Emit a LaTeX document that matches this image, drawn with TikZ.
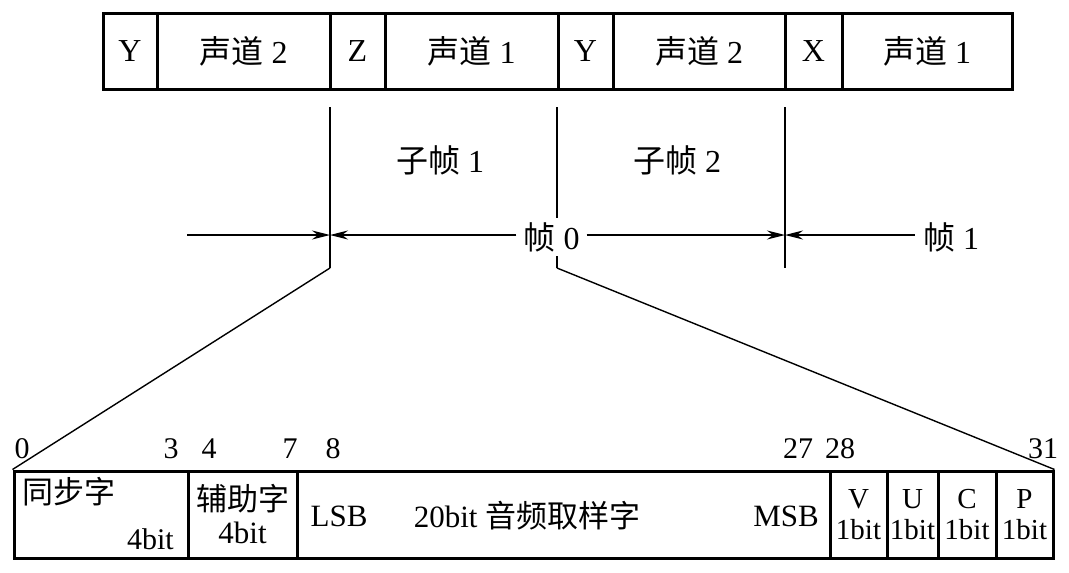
\documentclass[tikz,border=0pt]{standalone}
\usepackage{fontspec}
\setmainfont{Liberation Serif}
\newfontfamily\cjk{Noto Sans CJK SC}
\usetikzlibrary{arrows.meta}
\begin{document}
\begin{tikzpicture}[x=1pt,y=-1pt,
  cell/.style={draw, line width=3pt, inner sep=0pt, font=\fontsize{32}{34}\selectfont},
  topcell/.style={cell, minimum height=76pt},
  botcell/.style={cell, minimum height=87pt},
  txt/.style={inner sep=0pt, font=\fontsize{32}{34}\selectfont},
  num/.style={inner sep=0pt, font=\fontsize{30}{32}\selectfont},
  small/.style={align=center, font=\fontsize{29}{31}\selectfont},
  thin/.style={line width=1.4pt},
  arr/.style={thin, -{Stealth[length=18pt,width=9pt,inset=6pt]}}]
\useasboundingbox (0,0) rectangle (1069,573);
% top row
\node[topcell, minimum width=54pt]  (t1) at (130,51) {Y};
\node[topcell, minimum width=173pt] (t2) at (243.5,51) {{\cjk 声道} 2};
\node[topcell, minimum width=55pt]  (t3) at (357.5,51) {Z};
\node[topcell, minimum width=173pt] (t4) at (471.5,51) {{\cjk 声道} 1};
\node[topcell, minimum width=55pt]  (t5) at (585.5,51) {Y};
\node[topcell, minimum width=172pt] (t6) at (699,51) {{\cjk 声道} 2};
\node[topcell, minimum width=57pt]  (t7) at (813.5,51) {X};
\node[topcell, minimum width=170pt] (t8) at (927,51) {{\cjk 声道} 1};
% vertical lines
\coordinate (v1t) at (330,107); \coordinate (v1b) at (330,268);
\coordinate (v2t) at (557,107); \coordinate (v2b) at (557,268);
\coordinate (v3t) at (785,107); \coordinate (v3b) at (785,268);
\draw[thin] (v1t) -- (v1b);
\draw[thin] (v2t) -- (v2b);
\draw[thin] (v3t) -- (v3b);
\node[txt] (sf1) at (440,160) {{\cjk 子帧} 1};
\node[txt] (sf2) at (677,160) {{\cjk 子帧} 2};
% frame arrows
\coordinate (a0) at (187,235);
\coordinate (a1) at (330,235);
\coordinate (a3) at (785,235);
\node[txt, fill=white, inner xsep=7pt, inner ysep=4pt] (f0) at (551.5,237) {{\cjk 帧} 0};
\node[txt, inner xsep=8pt] (f1) at (951,237) {{\cjk 帧} 1};
\draw[arr] (a0) -- (a1);
\draw[arr] (f0.west |- a1) -- (a1);
\draw[arr] (f0.east |- a3) -- (a3);
\draw[arr] (f1.west |- a3) -- (a3);
% bottom row
\node[botcell, minimum width=174pt] (b1) at (101,514.5) {};
\node[botcell, minimum width=109pt, align=center, font=\fontsize{31}{33}\selectfont] (b2) at (242.5,514.5) {{\cjk 辅助字}\\4bit};
\node[botcell, minimum width=533pt] (b3) at (563.5,514.5) {};
\node[botcell, minimum width=57pt, small] (b4) at (858.5,514.5) {V\\1bit};
\node[botcell, minimum width=51pt, small] (b5) at (912.5,514.5) {U\\1bit};
\node[botcell, minimum width=58pt, small] (b6) at (967,514.5) {C\\1bit};
\node[botcell, minimum width=57pt, small] (b7) at (1024.5,514.5) {P\\1bit};
\node[txt, anchor=north west, font=\fontsize{31}{33}\selectfont] (sync) at (22,477) {\cjk 同步字};
\node[txt, anchor=south east, font=\fontsize{30}{32}\selectfont] (sbit) at (174,550) {4bit};
\node[txt, font=\fontsize{31}{33}\selectfont] (lsb) at (339,516) {LSB};
\node[txt, font=\fontsize{31}{33}\selectfont] (aud) at (527,516) {20bit {\cjk 音频取样字}};
\node[txt, font=\fontsize{31}{33}\selectfont] (msb) at (786,516) {MSB};
% bit numbers
\node[num] (n0) at (22,449) {0};
\node[num] (n3) at (171,449) {3};
\node[num] (n4) at (209,449) {4};
\node[num] (n7) at (290,449) {7};
\node[num] (n8) at (333,449) {8};
\node[num] (n27) at (798,449) {27};
\node[num] (n28) at (840,449) {28};
\node[num] (n31) at (1043,449) {31};
% diagonals
\draw[thin] (v1b) -- (b1.north west);
\draw[thin] (v2b) -- (b7.north east);
\end{tikzpicture}
\end{document}
